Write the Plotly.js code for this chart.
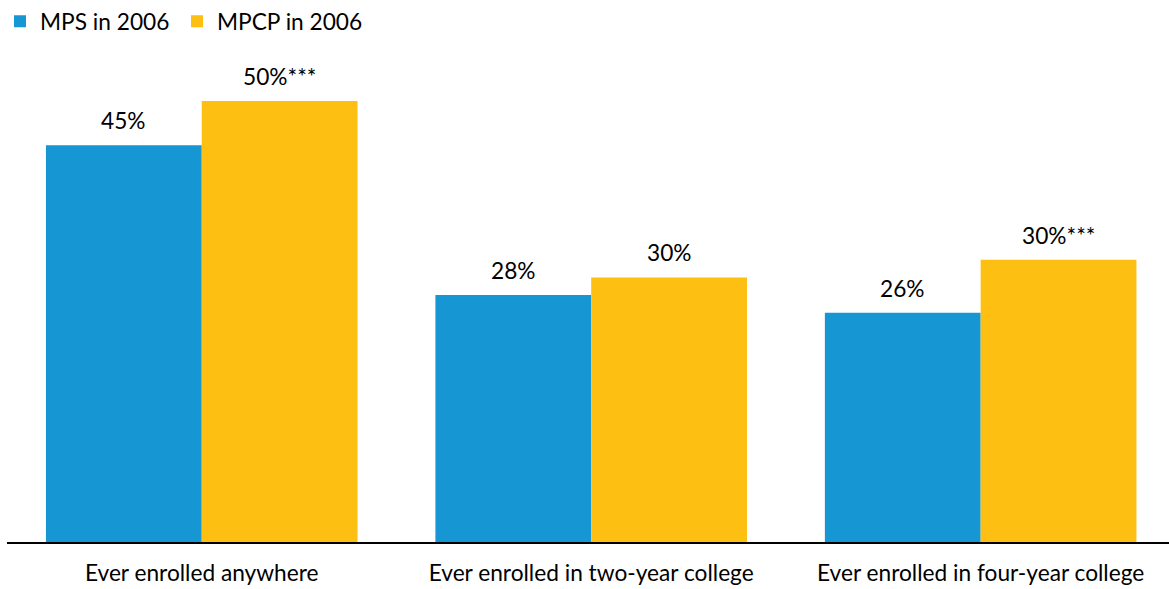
<!DOCTYPE html>
<html>
<head>
<meta charset="utf-8">
<script src="https://cdn.plot.ly/plotly-3.0.1.min.js"></script>
<style>
  html, body { margin: 0; padding: 0; background: #fff; }
  #chart { width: 1169px; height: 589px; }
</style>
</head>
<body>
<div id="chart"></div>
<script>
const categories = ["Ever enrolled anywhere", "Ever enrolled in two-year college", "Ever enrolled in four-year college"];
const seriesNames = ["MPS in 2006", "MPCP in 2006"];
const mpsValues = [45, 28, 26];
const mpcpValues = [50, 30, 32];
const mpsLabels = ["45%", "28%", "26%"];
const mpcpLabels = ["50%***", "30%", "30%***"];

const BLUE = "#1696d2";
const YELLOW = "#fdbf11";
const FONT = "Lato, 'Open Sans', sans-serif";
const FS = 22.7;

const traces = [
  { type: "bar", name: seriesNames[0], x: categories, y: mpsValues,
    marker: { color: BLUE }, hoverinfo: "skip", legend: "legend" },
  { type: "bar", name: seriesNames[1], x: categories, y: mpcpValues,
    marker: { color: YELLOW }, hoverinfo: "skip", legend: "legend2" }
];

const annotations = [];
const groupOffset = 0.2; // centre of each bar within a group (bargap 0.2, two bars)
categories.forEach((c, i) => {
  annotations.push({ x: i - groupOffset, y: mpsValues[i], xref: "x", yref: "y",
    text: mpsLabels[i], showarrow: false, yanchor: "bottom", xanchor: "center", yshift: 9,
    font: { family: FONT, size: FS, color: "#000" } });
  annotations.push({ x: i + groupOffset, y: mpcpValues[i], xref: "x", yref: "y",
    text: mpcpLabels[i], showarrow: false, yanchor: "bottom", xanchor: "center", yshift: 9,
    font: { family: FONT, size: FS, color: "#000" } });
});

const legendBase = {
  orientation: "h", xref: "container", yref: "container", y: 1,
  xanchor: "left", yanchor: "top", font: { family: FONT, size: FS, color: "#000" },
  itemwidth: 30, bgcolor: "rgba(0,0,0,0)"
};

const layout = {
  width: 1169, height: 589,
  margin: { l: 7, r: 0, t: 57, b: 47 },
  paper_bgcolor: "#fff", plot_bgcolor: "#fff",
  font: { family: FONT, size: FS, color: "#000" },
  barmode: "group", bargap: 0.2, bargroupgap: 0,
  showlegend: true,
  legend: Object.assign({}, legendBase, { x: 0 }),
  legend2: Object.assign({}, legendBase, { x: 0.1514 }),
  xaxis: { type: "category", range: [-0.5, 2.4836], showline: true, linecolor: "#000", linewidth: 2,
    ticks: "", showgrid: false, zeroline: false, fixedrange: true, ticklabelstandoff: 10,
    tickfont: { family: FONT, size: FS, color: "#000" } },
  yaxis: { range: [0, 55], showgrid: false, zeroline: false, showline: false, showticklabels: false,
    ticks: "", fixedrange: true },
  annotations: annotations
};

Plotly.newPlot("chart", traces, layout, { staticPlot: true, displayModeBar: false });
</script>
</body>
</html>
